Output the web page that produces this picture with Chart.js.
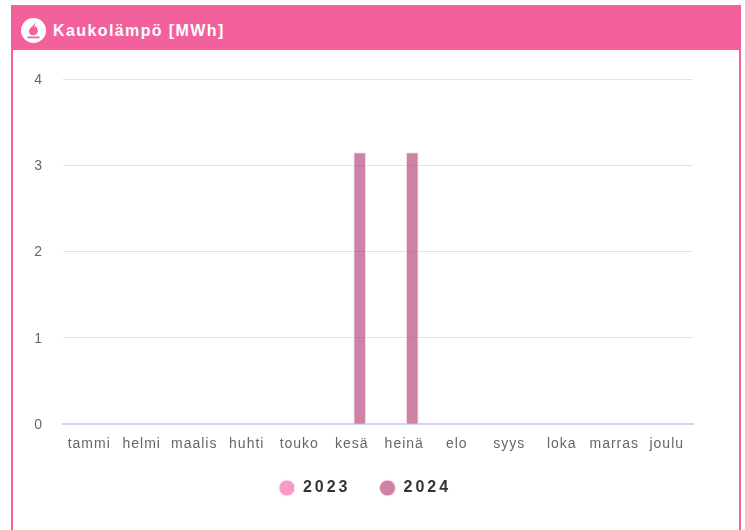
<!DOCTYPE html>
<html lang="fi">
<head>
<meta charset="utf-8">
<title>Kaukolämpö [MWh]</title>
<script src="https://cdn.jsdelivr.net/npm/chart.js@4"></script>
<style>
  body { margin: 0; background: #fff; overflow: hidden; font-family: "Liberation Sans", Arial, sans-serif; }
  .card { position: absolute; left: 11px; top: 5px; width: 726px; height: 540px; border: 2px solid #f2619b; border-top: 0; }
  .head { position: absolute; left: -2px; top: 0; width: 730px; height: 45px; background: #f2619b; color: #fff;
          font-weight: bold; font-size: 16px; letter-spacing: 1.4px; }
  .head span { position: absolute; left: 42px; top: 0; height: 45px; line-height: 52px; white-space: nowrap; }
  .head svg { position: absolute; left: 10px; top: 13px; }
  canvas { position: absolute; left: 0; top: 45px; }
</style>
</head>
<body>
<div class="card">
  <div class="head">
    <svg width="25" height="25" viewBox="0 0 25 25">
      <circle cx="12.5" cy="12.5" r="12.5" fill="#fff"/>
      <path d="M14.5 2.5c1.2 4-6.5 6-6.5 11 0 2.2 1.7 3.8 4 3.8s4.8-1.8 4.8-4.6c0-2.2-1.4-3.4-2-5-.8 1-1.2 1.8-2 2.4.8-2.8 2.6-5.400 1.700-7.600z" fill="#f2619b"/>
      <rect x="6.500" y="18.500" width="12" height="1.800" fill="#f2619b"/>
    </svg>
    <span>Kaukolämpö [MWh]</span>
  </div>
  <canvas id="lampo" width="726" height="458"></canvas>
</div>
<script>
const kuukaudet = ['tammi', 'helmi', 'maalis', 'huhti', 'touko', 'kesä', 'heinä', 'elo', 'syys', 'loka', 'marras', 'joulu'];
const arvot2023 = [0, 0, 0, 0, 0, 0, 0, 0, 0, 0, 0, 0];
const arvot2024 = [0, 0, 0, 0, 0, 3.15, 3.15, 0, 0, 0, 0, 0];
const yTicks = [0, 1, 2, 3, 4];

// kirjainväli legendaan ja akselien teksteihin
const kirjainvali = {
  id: 'kirjainvali',
  afterInit(chart) {
    const legend = chart.legend;
    const fit = legend.fit, draw = legend.draw;
    legend.fit = function () {
      chart.ctx.save();
      chart.ctx.letterSpacing = '3px';
      fit.call(this);
      chart.ctx.restore();
    };
    legend.draw = function () {
      chart.ctx.save();
      chart.ctx.letterSpacing = '3px';
      chart.ctx.translate(12, -2);
      draw.call(this);
      chart.ctx.restore();
    };
  },
  beforeDraw(chart) {
    chart.ctx.letterSpacing = '1px';
  }
};

new Chart(document.getElementById('lampo'), {
  type: 'bar',
  plugins: [kirjainvali],
  data: {
    labels: kuukaudet,
    datasets: [
      { label: '2023', data: arvot2023, backgroundColor: 'rgba(244, 130, 180, 0.8)', borderColor: '#fde6ef', borderWidth: 1 },
      { label: '2024', data: arvot2024, backgroundColor: 'rgba(184, 77, 128, 0.7)', borderColor: '#fde6ef', borderWidth: 1 }
    ]
  },
  options: {
    responsive: false,
    animation: false,
    categoryPercentage: 0.61,
    barPercentage: 0.8,
    layout: { padding: { top: 29, right: 46, left: 0, bottom: 0 } },
    plugins: {
      tooltip: { enabled: false },
      legend: {
        position: 'bottom',
        labels: {
          usePointStyle: true,
          pointStyle: 'circle',
          boxHeight: 11.3,
          padding: 29,
          color: '#333333',
          font: { family: '"Liberation Sans", Arial, sans-serif', size: 16, weight: 'bold' }
        }
      }
    },
    scales: {
      x: {
        afterFit(scale) { scale.height -= 12; },
        grid: { display: false, drawTicks: false },
        border: { color: '#ccd6eb', width: 2 },
        ticks: { color: '#666666', padding: 12, maxRotation: 0, autoSkip: false,
                 font: { family: '"Liberation Sans", Arial, sans-serif', size: 14 } }
      },
      y: {
        min: 0,
        max: 4,
        afterFit(scale) { scale.width = 50; },
        afterBuildTicks(scale) { scale.ticks = yTicks.map(v => ({ value: v })); },
        grid: { color: '#e2e2e2', drawTicks: false },
        border: { display: false },
        ticks: { color: '#666666', padding: 20, labelOffset: 1,
                 font: { family: '"Liberation Sans", Arial, sans-serif', size: 14 } }
      }
    }
  }
});
</script>
</body>
</html>
